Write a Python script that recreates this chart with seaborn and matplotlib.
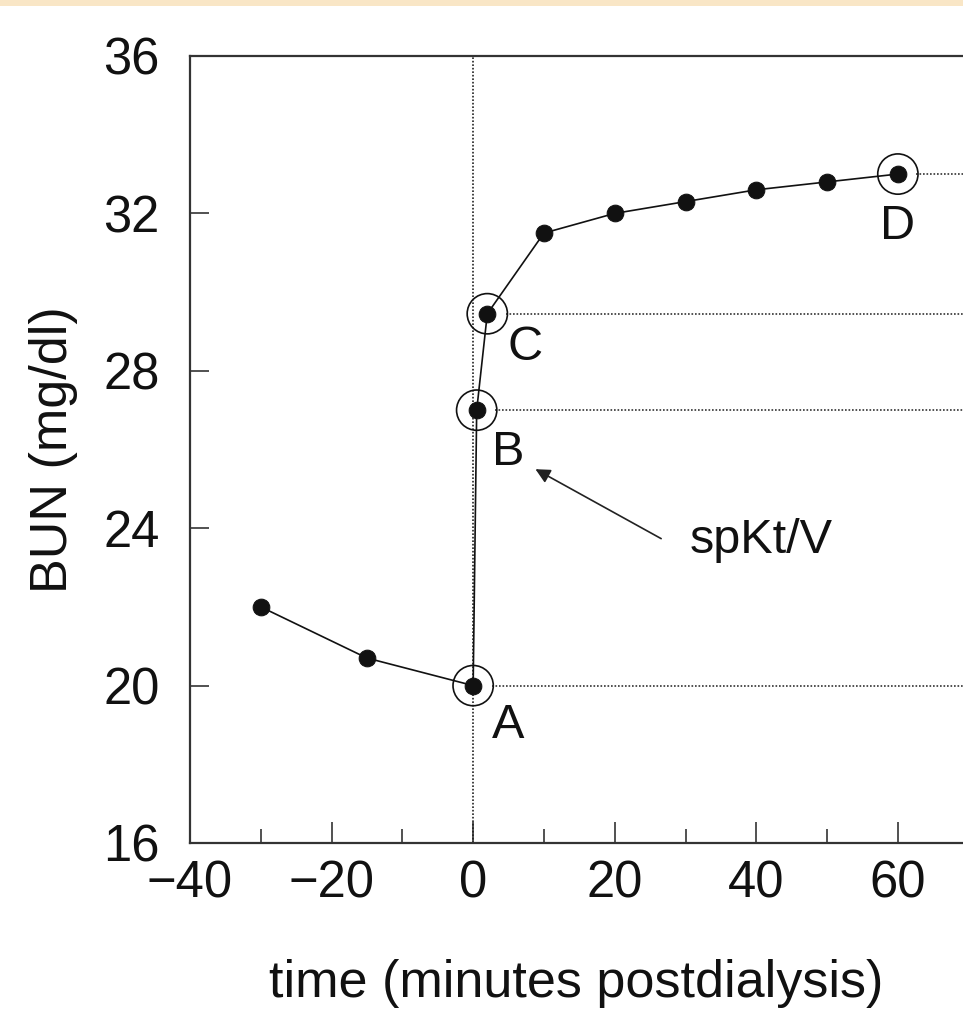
import matplotlib
matplotlib.use('Agg')
import matplotlib.pyplot as plt
import numpy as np
import pandas as pd
import seaborn as sns
from matplotlib.patches import Rectangle

# BUN curve around end of dialysis
time_min = [-30, -15, 0, 0.5, 2, 10, 20, 30, 40, 50, 60]
bun = [22.0, 20.7, 20.0, 27.0, 29.45, 31.5, 32.0, 32.3, 32.6, 32.8, 33.0]

# circled points A..D
key_labels = ['A', 'B', 'C', 'D']
key_time = [0, 0.5, 2, 60]
key_bun = [20.0, 27.0, 29.45, 33.0]

x_ticks = [-40, -20, 0, 20, 40, 60]
x_minor = [-30, -10, 10, 30, 50]
y_ticks = [16, 20, 24, 28, 32, 36]

sns.set_style('white')
plt.rcParams['font.family'] = ['Liberation Sans', 'DejaVu Sans']

fig = plt.figure(figsize=(9.63, 10.15), dpi=100)
fig.patch.set_facecolor('white')
fig.patches.append(Rectangle((0, 1 - 6 / 1015), 1, 6 / 1015, transform=fig.transFigure,
                             facecolor='#f9e6c6', edgecolor='none', zorder=0))

ax = fig.add_axes([190 / 963, 1 - 843 / 1015, 1 - 190 / 963, (843 - 56) / 1015])

df = pd.DataFrame({'time': time_min, 'bun': bun})
keys = pd.DataFrame({'time': key_time, 'bun': key_bun, 'label': key_labels})

# dotted guide lines
ax.axvline(0, color='#222222', lw=1.2, ls=(0, (1, 1.1)), zorder=1)
for t, b in zip(key_time, key_bun):
    ax.hlines(b, t + 2.6, 75, color='#333333', lw=1.2, ls=(0, (1, 1.1)), zorder=1)

sns.lineplot(data=df, x='time', y='bun', ax=ax, color='#111111', lw=1.2,
             marker='o', markersize=12, markerfacecolor='#111111',
             markeredgecolor='#111111', zorder=3)
sns.scatterplot(data=keys, x='time', y='bun', ax=ax, s=29 ** 2, facecolor='none',
                edgecolor='#111111', linewidth=1.2, zorder=4)

label_off = {'A': (2.7, -1.34), 'B': (2.2, -1.4), 'C': (2.9, -1.17), 'D': (-2.5, -1.64)}
for lab, t, b in zip(key_labels, key_time, key_bun):
    dx, dy = label_off[lab]
    ax.text(t + dx, b + dy, lab, fontsize=35, ha='left', va='baseline', color='#111111')

ax.annotate('spKt/V', xy=(8.8, 25.5), xytext=(30.6, 23.36), fontsize=35,
            ha='left', va='baseline', color='#111111',
            arrowprops=dict(arrowstyle='-|>', color='#222222', lw=1.2,
                            mutation_scale=22, shrinkA=0, shrinkB=0,
                            relpos=(-0.2, 0.55)))

ax.set_xlim(-40, 69.2)
ax.set_ylim(16, 36)
ax.set_xticks(x_ticks)
ax.set_xticks(x_minor, minor=True)
ax.set_yticks(y_ticks)
ax.set_xticklabels(['\u2212' + str(-v) if v < 0 else str(v) for v in x_ticks])
ax.tick_params(axis='both', which='major', direction='in', labelsize=36.5,
               color='#222222', width=1.1, labelcolor='#111111')
ax.tick_params(axis='x', which='major', length=15, pad=12)
ax.tick_params(axis='x', which='minor', direction='in', length=10, width=1.1,
               color='#222222')
ax.tick_params(axis='y', which='major', length=14, pad=22)
ax.tick_params(bottom=True, left=True, which='both')

ax.set_xlabel('time (minutes postdialysis)', fontsize=37.5, labelpad=36, color='#111111')
ax.set_ylabel('BUN (mg/dl)', fontsize=37.5, labelpad=18, color='#111111')

for side in ['left', 'bottom', 'top']:
    ax.spines[side].set_color('#333333')
    ax.spines[side].set_linewidth(1.6)
ax.spines['right'].set_visible(False)

fig.savefig('out.png', dpi=100)
